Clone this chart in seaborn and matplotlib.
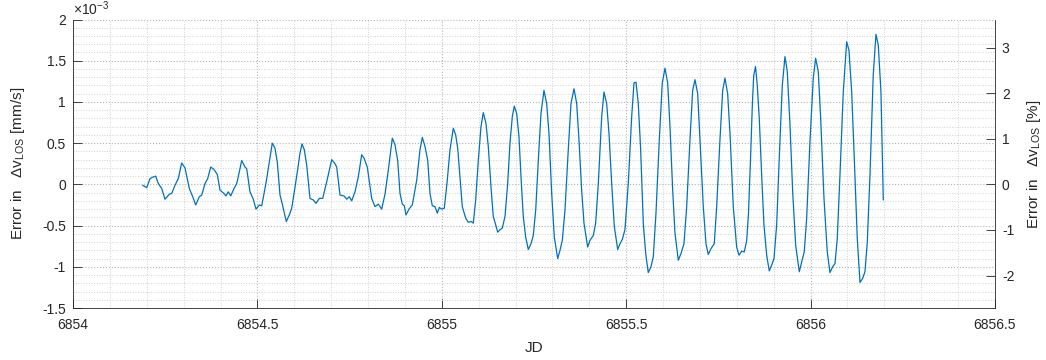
import numpy as np
import pandas as pd
import matplotlib
matplotlib.use("Agg")
import matplotlib.pyplot as plt
from matplotlib.ticker import MultipleLocator, FuncFormatter, FixedLocator
import seaborn as sns

# Julian date of each sample
jd = [
    6854.1890, 6854.1998, 6854.2088, 6854.2177, 6854.2242, 6854.2313, 6854.2405, 6854.2495,
    6854.2611, 6854.2676, 6854.2766, 6854.2855, 6854.2947, 6854.3037, 6854.3154, 6854.3246,
    6854.3327, 6854.3425, 6854.3490, 6854.3579, 6854.3652, 6854.3734, 6854.3823, 6854.3913,
    6854.3986, 6854.4094, 6854.4149, 6854.4211, 6854.4276, 6854.4366, 6854.4439, 6854.4528,
    6854.4574, 6854.4664, 6854.4710, 6854.4799, 6854.4889, 6854.4962, 6854.5052, 6854.5117,
    6854.5206, 6854.5252, 6854.5323, 6854.5404, 6854.5477, 6854.5540, 6854.5613, 6854.5659,
    6854.5721, 6854.5784, 6854.5865, 6854.5930, 6854.6001, 6854.6082, 6854.6155, 6854.6209,
    6854.6272, 6854.6337, 6854.6426, 6854.6516, 6854.6589, 6854.6679, 6854.6771, 6854.6879,
    6854.6950, 6854.7015, 6854.7104, 6854.7150, 6854.7240, 6854.7348, 6854.7421, 6854.7492,
    6854.7557, 6854.7646, 6854.7736, 6854.7828, 6854.7890, 6854.7980, 6854.8099, 6854.8189,
    6854.8278, 6854.8370, 6854.8460, 6854.8549, 6854.8658, 6854.8731, 6854.8804, 6854.8867,
    6854.8929, 6854.8983, 6854.9029, 6854.9111, 6854.9200, 6854.9320, 6854.9409, 6854.9471,
    6854.9545, 6854.9618, 6854.9680, 6854.9743, 6854.9816, 6854.9878, 6854.9932, 6854.9997,
    6855.0068, 6855.0149, 6855.0222, 6855.0312, 6855.0377, 6855.0431, 6855.0494, 6855.0556,
    6855.0648, 6855.0719, 6855.0792, 6855.0854, 6855.0919, 6855.0990, 6855.1063, 6855.1125,
    6855.1198, 6855.1261, 6855.1334, 6855.1396, 6855.1461, 6855.1516, 6855.1578, 6855.1641,
    6855.1714, 6855.1787, 6855.1849, 6855.1912, 6855.1966, 6855.2031, 6855.2093, 6855.2148,
    6855.2210, 6855.2275, 6855.2346, 6855.2419, 6855.2481, 6855.2547, 6855.2617, 6855.2690,
    6855.2771, 6855.2844, 6855.2907, 6855.2980, 6855.3051, 6855.3143, 6855.3205, 6855.3268,
    6855.3341, 6855.3430, 6855.3503, 6855.3585, 6855.3658, 6855.3720, 6855.3793, 6855.3856,
    6855.3956, 6855.4018, 6855.4108, 6855.4173, 6855.4244, 6855.4336, 6855.4398, 6855.4471,
    6855.4534, 6855.4607, 6855.4678, 6855.4770, 6855.4832, 6855.4894, 6855.4967, 6855.5057,
    6855.5149, 6855.5212, 6855.5266, 6855.5328, 6855.5393, 6855.5464, 6855.5529, 6855.5599,
    6855.5672, 6855.5735, 6855.5808, 6855.5898, 6855.5979, 6855.6052, 6855.6125, 6855.6188,
    6855.6261, 6855.6323, 6855.6413, 6855.6486, 6855.6567, 6855.6641, 6855.6730, 6855.6803,
    6855.6866, 6855.6939, 6855.7001, 6855.7091, 6855.7164, 6855.7226, 6855.7299, 6855.7389,
    6855.7454, 6855.7543, 6855.7617, 6855.7679, 6855.7752, 6855.7815, 6855.7904, 6855.7996,
    6855.8059, 6855.8132, 6855.8203, 6855.8268, 6855.8317, 6855.8371, 6855.8420, 6855.8458,
    6855.8507, 6855.8555, 6855.8609, 6855.8674, 6855.8736, 6855.8810, 6855.8880, 6855.8945,
    6855.9008, 6855.9081, 6855.9151, 6855.9233, 6855.9306, 6855.9368, 6855.9442, 6855.9515,
    6855.9596, 6855.9694, 6855.9759, 6855.9829, 6855.9894, 6855.9984, 6856.0073, 6856.0138,
    6856.0209, 6856.0274, 6856.0364, 6856.0453, 6856.0526, 6856.0600, 6856.0662, 6856.0724,
    6856.0797, 6856.0887, 6856.0979, 6856.1041, 6856.1115, 6856.1185, 6856.1267, 6856.1340,
    6856.1413, 6856.1475, 6856.1538, 6856.1611, 6856.1700, 6856.1773, 6856.1836, 6856.1909,
    6856.1972,
]

# Error in the line-of-sight velocity, in units of 1e-3 mm/s
err_e3 = [
    -0.01, -0.04, 0.07, 0.09, 0.10, 0.01, -0.05, -0.18,
    -0.12, -0.11, -0.01, 0.07, 0.26, 0.20, -0.05, -0.15,
    -0.25, -0.15, -0.13, 0.01, 0.07, 0.21, 0.18, 0.12,
    -0.07, -0.11, -0.14, -0.09, -0.14, -0.05, 0.01, 0.19,
    0.29, 0.21, 0.19, -0.09, -0.18, -0.30, -0.25, -0.26,
    -0.05, 0.07, 0.27, 0.50, 0.44, 0.27, -0.13, -0.21,
    -0.33, -0.45, -0.37, -0.29, -0.09, 0.15, 0.38, 0.49,
    0.42, 0.23, -0.17, -0.19, -0.23, -0.17, -0.17, 0.03,
    0.17, 0.30, 0.25, 0.21, -0.13, -0.14, -0.18, -0.15,
    -0.20, -0.09, 0.09, 0.36, 0.32, 0.21, -0.17, -0.27,
    -0.24, -0.30, -0.12, 0.17, 0.56, 0.48, 0.29, -0.11,
    -0.24, -0.26, -0.37, -0.30, -0.25, 0.05, 0.42, 0.57,
    0.46, 0.29, -0.11, -0.26, -0.27, -0.35, -0.28, -0.30,
    -0.29, 0.05, 0.42, 0.68, 0.60, 0.44, 0.09, -0.27,
    -0.41, -0.46, -0.45, -0.47, -0.19, 0.29, 0.70, 0.87,
    0.74, 0.46, -0.03, -0.39, -0.49, -0.58, -0.55, -0.53,
    -0.39, 0.01, 0.50, 0.82, 0.95, 0.86, 0.58, 0.09,
    -0.39, -0.64, -0.79, -0.72, -0.62, -0.31, 0.29, 0.86,
    1.14, 0.98, 0.62, -0.11, -0.64, -0.90, -0.80, -0.68,
    -0.31, 0.42, 0.98, 1.16, 0.98, 0.54, -0.07, -0.47,
    -0.76, -0.68, -0.62, -0.47, 0.01, 0.82, 1.12, 0.98,
    0.62, 0.01, -0.51, -0.79, -0.72, -0.67, -0.55, 0.01,
    0.82, 1.23, 1.24, 0.98, 0.42, -0.47, -0.84, -1.07,
    -1.00, -0.88, -0.35, 0.54, 1.23, 1.41, 1.23, 0.70,
    -0.07, -0.59, -0.92, -0.84, -0.72, -0.27, 0.54, 1.14,
    1.27, 1.10, 0.54, -0.27, -0.72, -0.85, -0.78, -0.72,
    -0.27, 0.54, 1.14, 1.29, 1.10, 0.62, -0.27, -0.76,
    -0.86, -0.81, -0.82, -0.68, -0.35, 0.30, 0.95, 1.32,
    1.43, 1.20, 0.80, 0.11, -0.49, -0.86, -1.05, -0.98,
    -0.90, -0.49, 0.32, 1.20, 1.55, 1.37, 0.72, -0.09,
    -0.74, -1.06, -0.94, -0.82, -0.41, 0.52, 1.29, 1.53,
    1.37, 0.80, -0.17, -0.82, -1.07, -1.00, -0.96, -0.66,
    0.11, 1.12, 1.73, 1.63, 1.12, 0.32, -0.66, -1.19,
    -1.14, -1.06, -0.70, 0.11, 1.33, 1.82, 1.69, 1.12,
    -0.19,
]

# Reference LOS velocity [mm/s] used for the relative-error axis
v_ref = 0.0553

sns.set_style("ticks")
plt.rcParams["font.family"] = ["Liberation Sans", "DejaVu Sans"]
plt.rcParams["mathtext.fontset"] = "custom"
plt.rcParams["mathtext.rm"] = "Liberation Sans"
plt.rcParams["mathtext.it"] = "Liberation Sans:italic"
plt.rcParams["mathtext.default"] = "regular"

axis_col = "#262626"
line_col = "#0072BD"

df = pd.DataFrame({"JD": jd, "err": np.array(err_e3) * 1e-3})

fig = plt.figure(figsize=(10.46, 3.6), dpi=100)
ax = fig.add_axes([0.0698, 0.1444, 0.8814, 0.8014])

sns.lineplot(data=df, x="JD", y="err", ax=ax, color=line_col, linewidth=0.9)

ylo, yhi = -1.5e-3, 2e-3
ax.set_xlim(6854, 6856.5)
ax.set_ylim(ylo, yhi)

ax.xaxis.set_major_locator(MultipleLocator(0.5))
ax.xaxis.set_minor_locator(MultipleLocator(0.1))
ax.yaxis.set_major_locator(MultipleLocator(0.5e-3))
ax.yaxis.set_minor_locator(MultipleLocator(0.1e-3))
ax.xaxis.set_major_formatter(FuncFormatter(lambda v, p: f"{v:g}"))
ax.yaxis.set_major_formatter(FuncFormatter(lambda v, p: f"{round(v * 1e3, 3):g}"))

ax.grid(which="major", linestyle=":", color="#b5b5b5", linewidth=0.8)
ax.grid(which="minor", linestyle=":", color="#d2d2d2", linewidth=0.7)
ax.set_axisbelow(True)

ax.tick_params(which="major", direction="in", length=6.5, width=0.6,
               color=axis_col, labelcolor=axis_col, labelsize=10, pad=5)
ax.tick_params(which="minor", length=0)
ax.tick_params(axis="x", pad=7)

for side in ("top", "right"):
    ax.spines[side].set_visible(False)
for side in ("left", "bottom"):
    ax.spines[side].set_color(axis_col)
    ax.spines[side].set_linewidth(0.6)

ax.set_xlabel("JD", fontsize=11, color=axis_col)
ax.set_ylabel("Error in   Δv$_{LOS}$ [mm/s]", fontsize=11, color=axis_col)
ax.xaxis.set_label_coords(0.5, -0.115)
ax.yaxis.set_label_coords(-0.050, 0.5)

ax.text(0.0, 1.004, "×10$^{-3}$", transform=ax.transAxes, ha="left", va="bottom",
        fontsize=10, color=axis_col)

# Relative error axis on the right
ax2 = ax.twinx()
ax2.set_ylim(ylo / v_ref * 100, yhi / v_ref * 100)
ax2.yaxis.set_major_locator(FixedLocator([-2, -1, 0, 1, 2, 3]))
ax2.yaxis.set_major_formatter(FuncFormatter(lambda v, p: f"{v:g}"))
ax2.tick_params(axis="y", direction="in", length=6.5, width=0.6,
                color=axis_col, labelcolor=axis_col, labelsize=10, pad=5)
for side in ("top", "left", "bottom"):
    ax2.spines[side].set_visible(False)
ax2.spines["right"].set_color(axis_col)
ax2.spines["right"].set_linewidth(0.6)
ax2.set_ylabel("Error in   Δv$_{LOS}$ [%]", fontsize=11, color=axis_col,
               rotation=90)
ax2.yaxis.set_label_coords(1.033, 0.5)

fig.savefig("out.png", dpi=100)
